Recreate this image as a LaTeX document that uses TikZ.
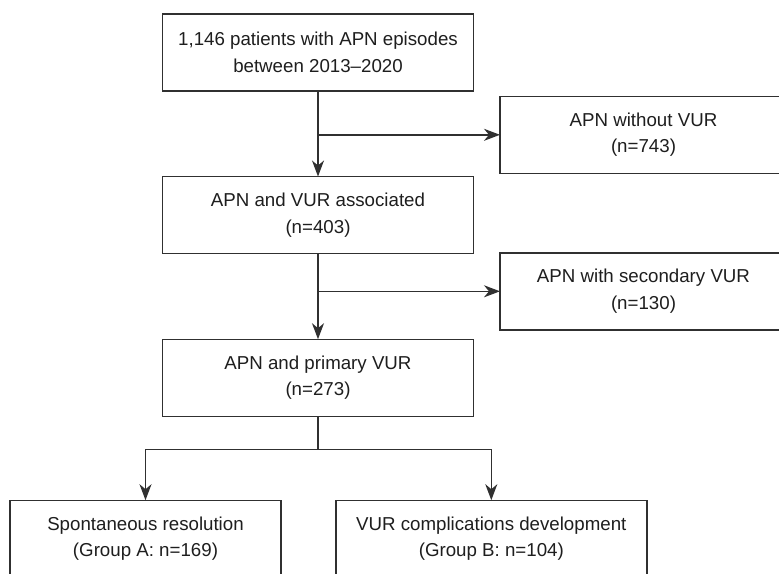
\documentclass[tikz,border=0pt]{standalone}
\usepackage{fontspec}
\setmainfont{Liberation Sans}
\usetikzlibrary{arrows.meta}
\definecolor{linec}{HTML}{303030}
\definecolor{textc}{HTML}{1E1E1E}
\begin{document}
\begin{tikzpicture}[x=1pt,y=-1pt,
  box/.style={draw=linec, line width=1.4pt, rectangle, outer sep=0pt, inner sep=0pt,
    minimum height=77pt, align=center, text=textc,
    font=\fontsize{18.7}{26.7}\selectfont},
  arr/.style={draw=linec, line width=1.4pt, -{Stealth[length=16pt,width=12pt,inset=5pt]}},
  ln/.style={draw=linec, line width=1.4pt}]
\clip (0,0) rectangle (779,573);
\fill[white] (0,0) rectangle (779,573);
\node[box, minimum width=311pt] (b1) at (318,52.5) {1,146 patients with APN episodes\\between 2013–2020};
\node[box, minimum width=287pt] (r1) at (643.5,134.8) {APN without VUR\\(n=743)};
\node[box, minimum width=311pt] (b2) at (318,215) {APN and VUR associated\\(n=403)};
\node[box, minimum width=287pt] (r2) at (643.5,291.3) {APN with secondary VUR\\(n=130)};
\node[box, minimum width=311pt] (b3) at (318,377.7) {APN and primary VUR\\(n=273)};
\node[box, minimum width=271pt] (b4) at (145.5,538.7) {Spontaneous resolution\\(Group A: n=169)};
\node[box, minimum width=311pt] (b5) at (491.3,538.7) {VUR complications development\\(Group B: n=104)};
\draw[arr] (b1.south) -- (b2.north);
\draw[arr] (b1.south |- r1.west) -- (r1.west);
\draw[arr] (b2.south) -- (b3.north);
\draw[arr] (b2.south |- r2.west) -- (r2.west);
\coordinate (split) at (318,449.3);
\coordinate (sl) at (b4.north |- split);
\coordinate (sr) at (b5.north |- split);
\draw[ln] (b3.south) -- (split);
\draw[ln] (sl) -- (sr);
\draw[arr] (sl) -- (b4.north);
\draw[arr] (sr) -- (b5.north);
\end{tikzpicture}
\end{document}
